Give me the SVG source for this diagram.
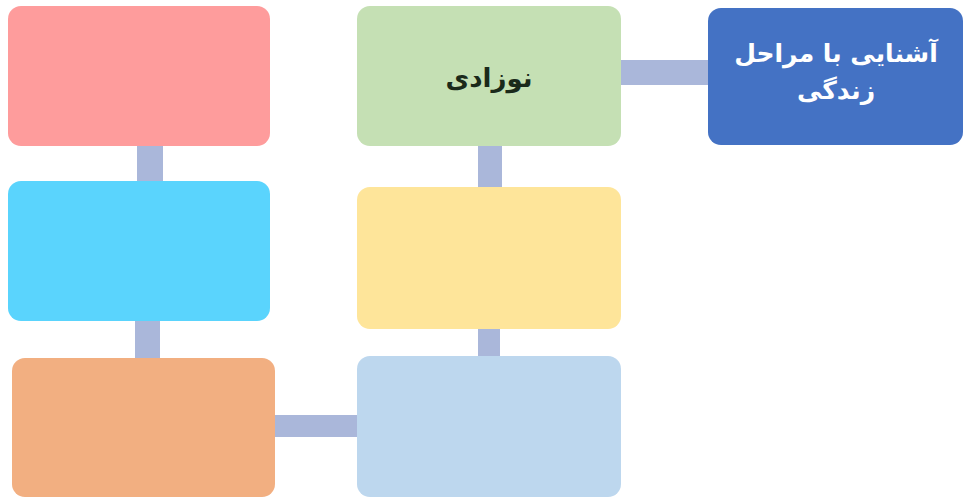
<svg xmlns="http://www.w3.org/2000/svg" width="964" height="500" viewBox="0 0 964 500">
<style>
.box{rx:13px;ry:13px}
.conn{fill:#AAB7DA}
.t{font-family:"DejaVu Sans","Noto Sans",sans-serif;font-weight:bold;text-anchor:middle;direction:rtl}
</style>
<rect width="964" height="500" fill="#ffffff"/>
<g id="connectors">
<rect class="conn" x="137" y="144" width="26" height="40"/>
<rect class="conn" x="135" y="319" width="25" height="42"/>
<rect class="conn" x="273" y="415" width="86" height="22"/>
<rect class="conn" x="478" y="144" width="24" height="45"/>
<rect class="conn" x="478" y="327" width="22" height="31"/>
<rect class="conn" x="619" y="60" width="91" height="25"/>
</g>
<g id="n-pink"><rect class="box" x="8" y="6" width="262" height="140" fill="#FE9C9C"/></g>
<g id="n-cyan"><rect class="box" x="8" y="181" width="262" height="140" fill="#5AD4FD"/></g>
<g id="n-orange"><rect class="box" x="12" y="358" width="263" height="139" fill="#F2AF81"/></g>
<g id="n-lightblue"><rect class="box" x="357" y="356" width="264" height="141" fill="#BDD7EE"/></g>
<g id="n-yellow"><rect class="box" x="357" y="187" width="264" height="142" fill="#FEE59A"/></g>
<g id="n-green"><rect class="box" x="357" y="6" width="264" height="140" fill="#C5E0B4"/>
<text class="t" x="489" y="87" font-size="26" fill="#1a2a1a">نوزادی</text></g>
<g id="n-blue"><rect class="box" x="708" y="8" width="255" height="137" fill="#4472C4"/>
<text class="t" x="836" y="62" font-size="25" fill="#ffffff">آشنایی با مراحل</text>
<text class="t" x="836" y="99" font-size="25" fill="#ffffff">زندگی</text></g>
</svg>
